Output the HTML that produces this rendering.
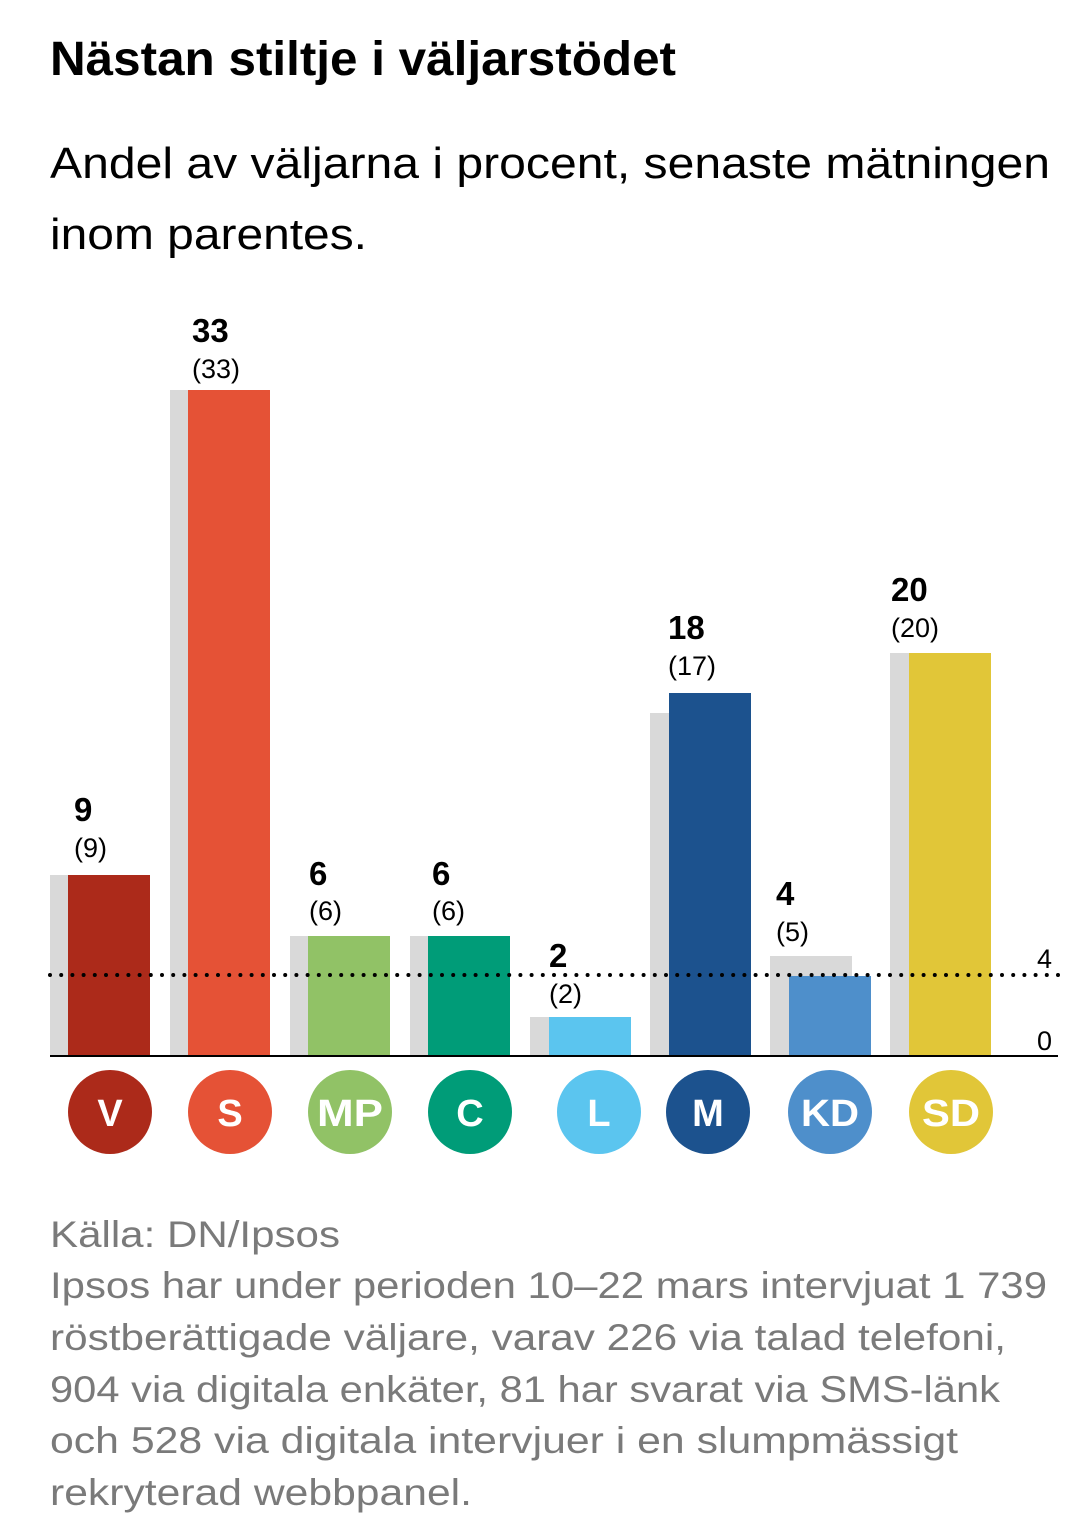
<!DOCTYPE html>
<html><head><meta charset="utf-8"><style>
html,body{margin:0;padding:0;background:#fff;}
svg{display:block;}
text{font-family:"Liberation Sans",sans-serif;}
</style></head><body>
<svg width="1080" height="1534" viewBox="0 0 1080 1534" xmlns="http://www.w3.org/2000/svg">
<text x="50" y="75" font-size="48" font-weight="bold" textLength="626" lengthAdjust="spacingAndGlyphs">Nästan stiltje i väljarstödet</text>
<text x="50" y="178" font-size="44" textLength="1000" lengthAdjust="spacingAndGlyphs">Andel av väljarna i procent, senaste mätningen</text>
<text x="50" y="249" font-size="44" textLength="317" lengthAdjust="spacingAndGlyphs">inom parentes.</text>

<g fill="#d9d9d9">
<rect x="50" y="875" width="82" height="181"/>
<rect x="170" y="390" width="82" height="666"/>
<rect x="290" y="936" width="82" height="120"/>
<rect x="410" y="936" width="82" height="120"/>
<rect x="530" y="1017" width="82" height="39"/>
<rect x="650" y="713" width="82" height="343"/>
<rect x="770" y="956" width="82" height="100"/>
<rect x="890" y="653" width="82" height="403"/>
</g>
<rect x="68" y="875" width="82" height="181" fill="#ac2a1a"/>
<rect x="188" y="390" width="82" height="666" fill="#e55236"/>
<rect x="308" y="936" width="82" height="120" fill="#91c266"/>
<rect x="428" y="936" width="82" height="120" fill="#009c78"/>
<rect x="549" y="1017" width="82" height="39" fill="#5bc5ef"/>
<rect x="669" y="693" width="82" height="363" fill="#1c528e"/>
<rect x="789" y="976" width="82" height="80" fill="#4e8fcb"/>
<rect x="909" y="653" width="82" height="403" fill="#e1c638"/>

<line x1="50" y1="975" x2="1058" y2="975" stroke="#000" stroke-width="4" stroke-linecap="round" stroke-dasharray="0 11.2"/>
<line x1="50" y1="1056" x2="1058" y2="1056" stroke="#000" stroke-width="2"/>
<text x="1052" y="968" font-size="27" text-anchor="end">4</text>
<text x="1052" y="1050" font-size="27" text-anchor="end">0</text>

<g font-size="33" font-weight="bold">
<text x="74" y="821">9</text>
<text x="192" y="342">33</text>
<text x="309" y="885">6</text>
<text x="432" y="885">6</text>
<text x="549" y="967">2</text>
<text x="668" y="639">18</text>
<text x="776" y="905">4</text>
<text x="891" y="601">20</text>
</g>
<g font-size="27">
<text x="74" y="857">(9)</text>
<text x="192" y="378">(33)</text>
<text x="309" y="920">(6)</text>
<text x="432" y="920">(6)</text>
<text x="549" y="1003">(2)</text>
<text x="668" y="675">(17)</text>
<text x="776" y="941">(5)</text>
<text x="891" y="637">(20)</text>
</g>

<g>
<circle cx="110" cy="1112" r="42" fill="#ac2a1a"/>
<circle cx="230" cy="1112" r="42" fill="#e55236"/>
<circle cx="350" cy="1112" r="42" fill="#91c266"/>
<circle cx="470" cy="1112" r="42" fill="#009c78"/>
<circle cx="599" cy="1112" r="42" fill="#5bc5ef"/>
<circle cx="708" cy="1112" r="42" fill="#1c528e"/>
<circle cx="830" cy="1112" r="42" fill="#4e8fcb"/>
<circle cx="951" cy="1112" r="42" fill="#e1c638"/>
</g>
<g font-size="38" font-weight="bold" fill="#fff" text-anchor="middle">
<text x="110" y="1126">V</text>
<text x="230" y="1126">S</text>
<text x="350" y="1126" textLength="66" lengthAdjust="spacingAndGlyphs">MP</text>
<text x="470" y="1126">C</text>
<text x="599" y="1126">L</text>
<text x="708" y="1126">M</text>
<text x="830" y="1126" textLength="58" lengthAdjust="spacingAndGlyphs">KD</text>
<text x="951" y="1126" textLength="58" lengthAdjust="spacingAndGlyphs">SD</text>
</g>

<g font-size="37" fill="#7a7a7a">
<text x="50" y="1247" textLength="290" lengthAdjust="spacingAndGlyphs">Källa: DN/Ipsos</text>
<text x="50" y="1298" textLength="997" lengthAdjust="spacingAndGlyphs">Ipsos har under perioden 10–22 mars intervjuat 1 739</text>
<text x="50" y="1350" textLength="956" lengthAdjust="spacingAndGlyphs">röstberättigade väljare, varav 226 via talad telefoni,</text>
<text x="50" y="1402" textLength="950" lengthAdjust="spacingAndGlyphs">904 via digitala enkäter, 81 har svarat via SMS-länk</text>
<text x="50" y="1453" textLength="908" lengthAdjust="spacingAndGlyphs">och 528 via digitala intervjuer i en slumpmässigt</text>
<text x="50" y="1505" textLength="422" lengthAdjust="spacingAndGlyphs">rekryterad webbpanel.</text>
</g>
</svg>
</body></html>
